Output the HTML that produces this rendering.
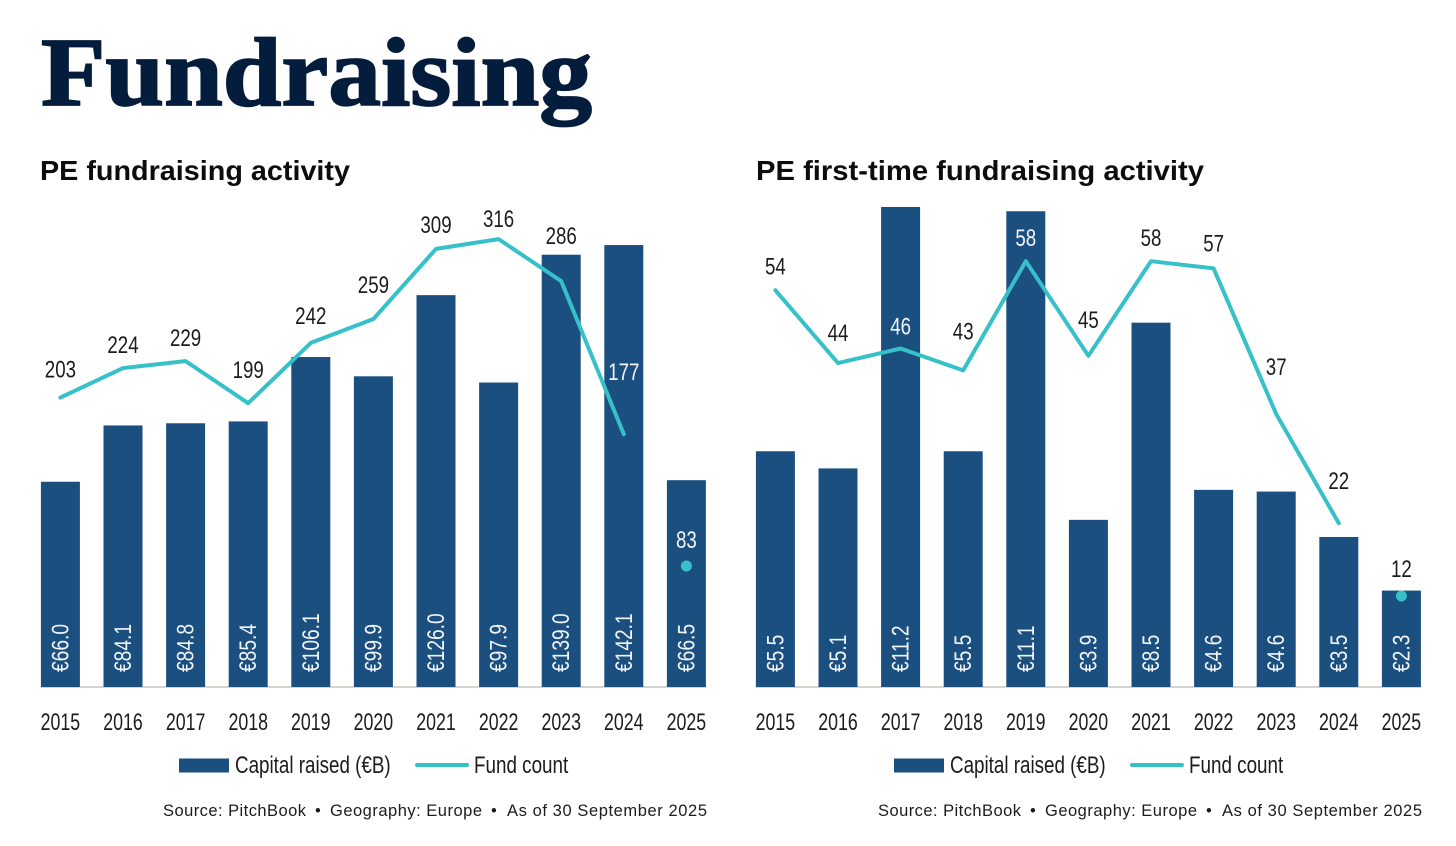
<!DOCTYPE html>
<html lang="en">
<head>
<meta charset="utf-8">
<title>Fundraising</title>
<style>
  html, body { margin: 0; padding: 0; background: #ffffff; }
  svg { display: block; }
  text { font-family: "Liberation Sans", sans-serif; }
</style>
</head>
<body>
<svg id="root" xmlns="http://www.w3.org/2000/svg" width="1456" height="846" viewBox="0 0 1456 846">
  <rect x="0" y="0" width="1456" height="846" fill="#ffffff"/>
  <text x="41" y="105" font-size="97" font-weight="700" fill="#051d3c" stroke="#051d3c" stroke-width="1.8" textLength="551" lengthAdjust="spacingAndGlyphs" style="font-family:'Liberation Serif',serif">Fundraising</text>
  <text x="40" y="180" font-size="28" font-weight="700" fill="#0d0d0d" textLength="310" lengthAdjust="spacingAndGlyphs">PE fundraising activity</text>
  <text x="756" y="180" font-size="28" font-weight="700" fill="#0d0d0d" textLength="448" lengthAdjust="spacingAndGlyphs">PE first-time fundraising activity</text>
  <g id="left-chart"></g>
  <g id="right-chart"></g>
</svg>
<script>
const years = ['2015','2016','2017','2018','2019','2020','2021','2022','2023','2024','2025'];

const leftCapital = [66.0, 84.1, 84.8, 85.4, 106.1, 99.9, 126.0, 97.9, 139.0, 142.1, 66.5];
const leftFunds = [203, 224, 229, 199, 242, 259, 309, 316, 286, 177, 83];

const rightCapital = [5.5, 5.1, 11.2, 5.5, 11.1, 3.9, 8.5, 4.6, 4.56, 3.5, 2.25];
const rightFunds = [54, 44, 46, 43, 58, 45, 58, 57, 37, 22, 12];

/* Layout: distance of each count label above its point */
const leftLabelGaps = [28, 23, 23, 33, 27, 34, 24, 20, 45, 62, 26];
const rightLabelGaps = [24, 30, 22, 39, 23, 36, 23, 25, 47, 42, 27];

const SVG_NS = 'http://www.w3.org/2000/svg';
const BAR_COLOR = '#1b4f80';
const LINE_COLOR = '#36c0c8';
const INK = '#1c1c1c';
const BASELINE_Y = 687;

function makeEl(parent, tag) {
  const el = document.createElementNS(SVG_NS, tag);
  parent.appendChild(el);
  return el;
}

function narrowText(parent, content, x, y, rotate, fill, anchor, squeeze) {
  const el = makeEl(parent, 'text');
  el.textContent = content;
  el.setAttribute('font-size', '24');
  el.setAttribute('fill', fill);
  el.setAttribute('text-anchor', anchor);
  const turn = rotate ? ' rotate(-90)' : '';
  el.setAttribute('transform', 'translate(' + x + ',' + y + ')' + turn + ' scale(' + squeeze + ',1)');
  return el;
}

function drawChart(root, cfg) {
  const xAxis = i => cfg.originX + 62.6 * i;
  const barHeight = v => v * cfg.barScale;
  const lineY = v => cfg.lineZero - v * cfg.lineScale;
  const barWidth = 39;

  const axis = makeEl(root, 'line');
  
  
  axis.setAttribute('x1', xAxis(0) - 20);
  axis.setAttribute('x2', xAxis(years.length - 1) + 20);
  axis.setAttribute('y1', BASELINE_Y);
  axis.setAttribute('y2', BASELINE_Y);
  axis.setAttribute('stroke', '#c9c6bf');
  axis.setAttribute('stroke-width', '1.5');

  cfg.capital.forEach((v, i) => {
    const h = barHeight(v);
    const bar = makeEl(root, 'rect');
    
    
    bar.setAttribute('x', xAxis(i) - barWidth / 2);
    bar.setAttribute('y', BASELINE_Y - h);
    bar.setAttribute('width', barWidth);
    bar.setAttribute('height', h);
    bar.setAttribute('fill', BAR_COLOR);

    const label = narrowText(root, '€' + v.toFixed(1), xAxis(i) + 8, 672, true, '#f2f5f8', 'start', 0.8);
    
    

    const tick = narrowText(root, years[i], xAxis(i), 730, false, INK, 'middle', 0.74);
    
    
  });

  const lastLine = cfg.funds.length - 2;
  const pts = cfg.funds.slice(0, lastLine + 1).map((v, i) => xAxis(i).toFixed(1) + ',' + lineY(v).toFixed(1));
  const line = makeEl(root, 'polyline');
  
  
  line.setAttribute('points', pts.join(' '));
  line.setAttribute('fill', 'none');
  line.setAttribute('stroke', LINE_COLOR);
  line.setAttribute('stroke-width', '4');
  line.setAttribute('stroke-linecap', 'round');
  line.setAttribute('stroke-linejoin', 'round');

  const lastIdx = cfg.funds.length - 1;
  const dot = makeEl(root, 'circle');
  
  
  dot.setAttribute('cx', xAxis(lastIdx));
  dot.setAttribute('cy', lineY(cfg.funds[lastIdx]));
  dot.setAttribute('r', '5.5');
  dot.setAttribute('fill', LINE_COLOR);

  cfg.funds.forEach((v, i) => {
    const centerY = lineY(v) - cfg.gaps[i];
    const insideBar = centerY > BASELINE_Y - barHeight(cfg.capital[i]);
    const label = narrowText(root, String(v), xAxis(i), centerY + 8, false, insideBar ? '#f2f5f8' : INK, 'middle', 0.78);
    
    
  });

  const dx = cfg.originX - 60.4;
  const swatch = makeEl(root, 'rect');
  
  
  swatch.setAttribute('x', 179 + dx);
  swatch.setAttribute('y', 758.5);
  swatch.setAttribute('width', 50);
  swatch.setAttribute('height', 14);
  swatch.setAttribute('fill', BAR_COLOR);

  const capLabel = narrowText(root, 'Capital raised (€B)', 235 + dx, 773, false, INK, 'start', 0.784);
  
  

  const swatchLine = makeEl(root, 'line');
  
  
  swatchLine.setAttribute('x1', 417 + dx);
  swatchLine.setAttribute('x2', 467 + dx);
  swatchLine.setAttribute('y1', 765);
  swatchLine.setAttribute('y2', 765);
  swatchLine.setAttribute('stroke', LINE_COLOR);
  swatchLine.setAttribute('stroke-width', '4');
  swatchLine.setAttribute('stroke-linecap', 'round');

  const fundLabel = narrowText(root, 'Fund count', 474 + dx, 773, false, INK, 'start', 0.785);
  
  

  const source = makeEl(root, 'text');
  
  
  source.setAttribute('y', 816);
  source.setAttribute('font-size', '16.5');
  source.setAttribute('fill', INK);

  const partOne = makeEl(source, 'tspan');
  partOne.textContent = 'Source: PitchBook';
  partOne.setAttribute('x', 163 + dx);
  partOne.setAttribute('textLength', '143');

  const bulletOne = makeEl(source, 'tspan');
  bulletOne.textContent = '•';
  bulletOne.setAttribute('x', 315 + dx);

  const partTwo = makeEl(source, 'tspan');
  partTwo.textContent = 'Geography: Europe';
  partTwo.setAttribute('x', 330 + dx);
  partTwo.setAttribute('textLength', '152');

  const bulletTwo = makeEl(source, 'tspan');
  bulletTwo.textContent = '•';
  bulletTwo.setAttribute('x', 491 + dx);

  const partThree = makeEl(source, 'tspan');
  partThree.textContent = 'As of 30 September 2025';
  partThree.setAttribute('x', 507 + dx);
  partThree.setAttribute('textLength', '200');
}

drawChart(document.getElementById('left-chart'), {
  originX: 60.4,
  capital: leftCapital,
  funds: leftFunds,
  gaps: leftLabelGaps,
  barScale: 3.11,
  lineZero: 682.4,
  lineScale: 1.403
});

drawChart(document.getElementById('right-chart'), {
  originX: 775.4,
  capital: rightCapital,
  funds: rightFunds,
  gaps: rightLabelGaps,
  barScale: 42.86,
  lineZero: 683.4,
  lineScale: 7.28
});
</script>
</body>
</html>
